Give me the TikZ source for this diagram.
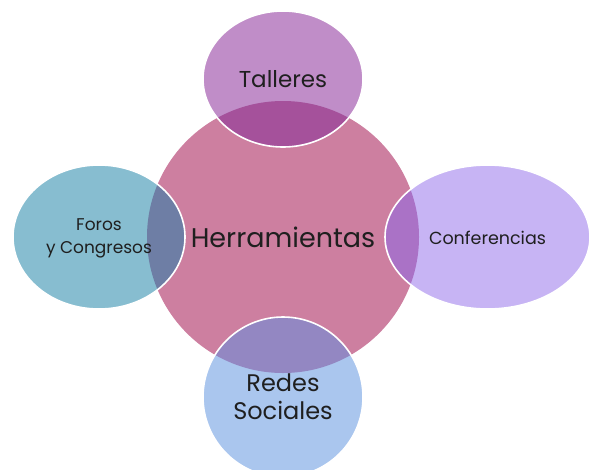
\documentclass[tikz,border=0pt]{standalone}
\usepackage{fontspec}
\setmainfont{Poppins}
\usepackage{xcolor}

\definecolor{hub}{HTML}{CD7FA0}
\definecolor{talleres}{HTML}{C08DC8}
\definecolor{tallereshub}{HTML}{A5519B}
\definecolor{conferencias}{HTML}{C7B4F4}
\definecolor{conferenciashub}{HTML}{AA72C6}
\definecolor{foros}{HTML}{87BDD0}
\definecolor{foroshub}{HTML}{6E7EA5}
\definecolor{redes}{HTML}{AAC6EE}
\definecolor{redeshub}{HTML}{9387C2}

\begin{document}
\begin{tikzpicture}[x=1pt, y=-1pt]
    \tikzstyle{lbl} = [text=black!88, inner sep=0pt, align=center]
    \tikzstyle{rim} = [draw=white, line width=1.6pt]
    \useasboundingbox (0, 0) rectangle (596, 469);
    \fill[hub] (283, 237) circle[radius=136];
    \fill[talleres] (283, 79) ellipse[x radius=80, y radius=68];
    \begin{scope}
        \clip (283, 79) ellipse[x radius=80, y radius=68];
        \fill[tallereshub] (283, 237) circle[radius=136];
    \end{scope}
    \draw[rim] (283, 79) ellipse[x radius=80, y radius=68];
    \fill[conferencias] (487.5, 237) ellipse[x radius=102.5, y radius=72];
    \begin{scope}
        \clip (487.5, 237) ellipse[x radius=102.5, y radius=72];
        \fill[conferenciashub] (283, 237) circle[radius=136];
    \end{scope}
    \draw[rim] (487.5, 237) ellipse[x radius=102.5, y radius=72];
    \fill[foros] (99, 237) ellipse[x radius=86, y radius=72];
    \begin{scope}
        \clip (99, 237) ellipse[x radius=86, y radius=72];
        \fill[foroshub] (283, 237) circle[radius=136];
    \end{scope}
    \draw[rim] (99, 237) ellipse[x radius=86, y radius=72];
    \fill[redes] (283, 397) ellipse[x radius=80, y radius=80];
    \begin{scope}
        \clip (283, 397) ellipse[x radius=80, y radius=80];
        \fill[redeshub] (283, 237) circle[radius=136];
    \end{scope}
    \draw[rim] (283, 397) ellipse[x radius=80, y radius=80];
    \node[lbl, anchor=base, font=\fontsize{27}{30}\selectfont] (herramientas) at (283, 247) {Herramientas};
    \node[lbl, anchor=base, font=\fontsize{23}{28}\selectfont] (tall) at (283, 87) {Talleres};
    \node[lbl, font=\fontsize{17.5}{17.5}\selectfont] (conf) at (487.5, 238) {Conferencias};
    \node[lbl, font=\fontsize{17}{23}\selectfont] (foro) at (99, 238) {Foros\\y Congresos};
    \node[lbl, font=\fontsize{24}{28}\selectfont] (red) at (283, 397) {Redes\\Sociales};
\end{tikzpicture}
\end{document}
